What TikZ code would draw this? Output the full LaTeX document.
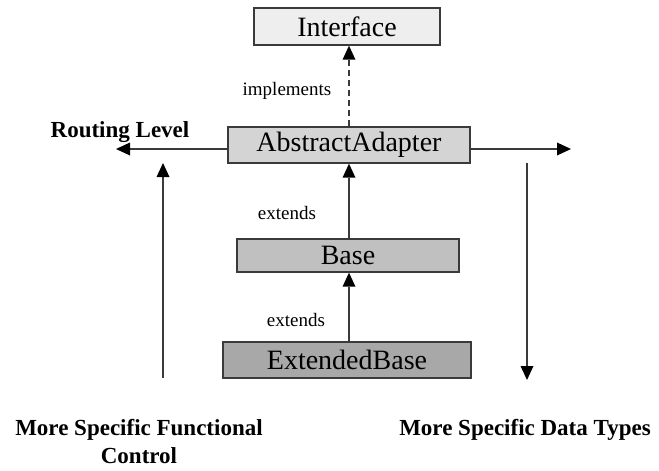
\documentclass[tikz,border=0pt]{standalone}
\usepackage{fontspec}
\setmainfont{Liberation Serif}
\usetikzlibrary{arrows.meta,calc}
\definecolor{lineg}{HTML}{3A3A3A}
\definecolor{fillA}{HTML}{EEEEEE}
\definecolor{fillB}{HTML}{D4D4D4}
\definecolor{fillC}{HTML}{C0C0C0}
\definecolor{fillD}{HTML}{A8A8A8}
\tikzset{
  classbox/.style={draw=lineg, line width=1.4pt, minimum height=36pt, inner sep=0pt,
    font=\fontsize{28}{30}\selectfont},
  conn/.style={draw=lineg, line width=1.4pt,
    -{Triangle[length=14pt,width=13pt,color=black,fill=black,line width=0pt]}},
  lbl/.style={font=\fontsize{19}{22}\selectfont, inner sep=0pt},
  axislbl/.style={font=\bfseries\fontsize{23}{28}\selectfont, inner sep=0pt, align=center}
}
\begin{document}
\begin{tikzpicture}[x=1pt,y=-1pt]
\useasboundingbox (0,0) rectangle (659,471);
% class boxes
\node[classbox, fill=fillA, minimum width=186pt, minimum height=37pt] (iface) at (347,26.5) {Interface};
\node[classbox, fill=fillB, minimum width=242pt] (aa) at (349,145) {AbstractAdapter};
\node[classbox, fill=fillC, minimum width=222pt, minimum height=33pt] (base) at (348,255.5) {Base};
\node[classbox, fill=fillD, minimum width=248pt] (ext) at (347,360) {ExtendedBase};
% inheritance connectors
\draw[conn, dash pattern=on 6pt off 4pt] (aa.north) -- (aa.north |- iface.south);
\draw[conn] (base.north -| aa.north) -- (aa.south);
\draw[conn] (ext.north -| aa.north) -- (aa.north |- base.south);
% edge labels
\node[lbl] (limpl) at (287,91) {implements};
\node[lbl] (lext1) at (287,213) {extends};
\node[lbl] (lext2) at (296,320) {extends};
% routing level arrows
\coordinate (lefttip) at (116,149);
\coordinate (righttip) at (571,149);
\draw[conn] (aa.west |- lefttip) -- (lefttip);
\draw[conn] (aa.east |- righttip) -- (righttip);
\node[axislbl] (routing) at (120,132) {Routing Level};
% specificity axes
\coordinate (upfoot) at (163,378);
\coordinate (uptip) at (163,163);
\coordinate (downtop) at (527,163);
\coordinate (downtip) at (527,380);
\draw[conn] (upfoot) -- (uptip);
\draw[conn] (downtop) -- (downtip);
\node[axislbl, anchor=north] (func) at (139,419) {More Specific Functional\\Control};
\node[axislbl, anchor=north] (data) at (525,419) {More Specific Data Types};
\end{tikzpicture}
\end{document}
